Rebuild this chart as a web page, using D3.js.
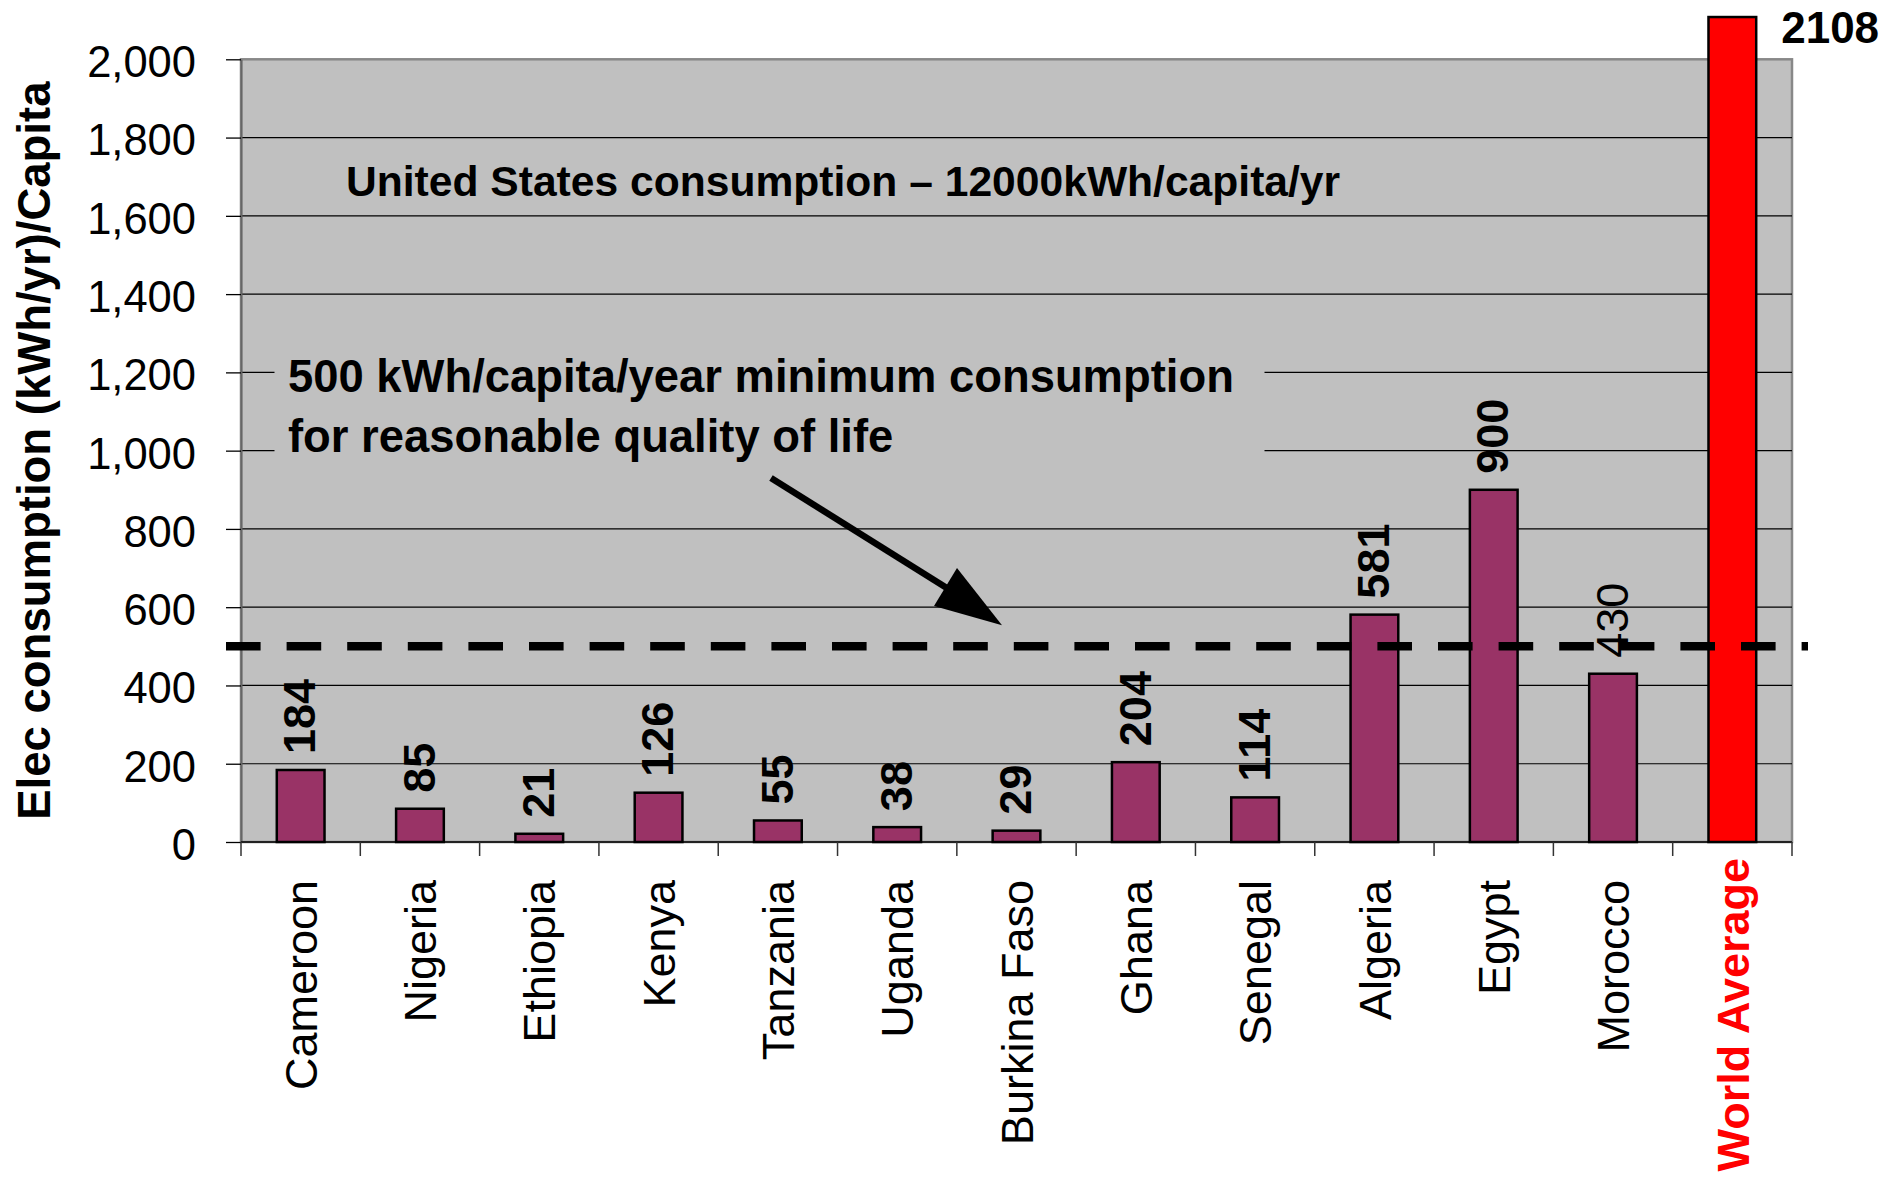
<!DOCTYPE html>
<html>
<head>
<meta charset="utf-8">
<script src="https://cdn.jsdelivr.net/npm/d3@7"></script>
<style>
  html, body { margin: 0; padding: 0; background: #ffffff; }
  svg { display: block; font-family: "Liberation Sans", Arial, Helvetica, sans-serif; }
</style>
</head>
<body>
<svg id="chart" width="1900" height="1179"></svg>
<script>
// Electricity consumption per capita (kWh/yr)
const countries = ["Cameroon", "Nigeria", "Ethiopia", "Kenya", "Tanzania", "Uganda",
  "Burkina Faso", "Ghana", "Senegal", "Algeria", "Egypt", "Morocco", "World Average"];
const consumption = [184, 85, 21, 126, 55, 38, 29, 204, 114, 581, 900, 430, 2108];
const yTicks = [0, 200, 400, 600, 800, 1000, 1200, 1400, 1600, 1800, 2000];
const minimumLevel = 500;
const yTitle = "Elec consumption (kWh/yr)/Capita";
const usNote = "United States consumption \u2013 12000kWh/capita/yr";
const minNote = ["500 kWh/capita/year minimum consumption", "for reasonable quality of life"];
const highlighted = "World Average";

const rows = countries.map((c, i) => ({ country: c, value: consumption[i] }));

const svg = d3.select("#chart");
const plot = { left: 241, right: 1792, top: 59.3, bottom: 842 };

const x = d3.scaleBand()
  .domain(countries)
  .range([plot.left, plot.right])
  .paddingInner(0.6)
  .paddingOuter(0.3);

const y = d3.scaleLinear()
  .domain([0, 2000])
  .range([plot.bottom, plot.top]);

const BAR = "#993366";
const HILITE = "#ff0000";

// plot background
svg.append("rect")
  .attr("x", plot.left).attr("y", plot.top)
  .attr("width", plot.right - plot.left).attr("height", plot.bottom - plot.top)
  .attr("fill", "#c0c0c0")
  .attr("stroke", "#888888").attr("stroke-width", 2.5);

// horizontal gridlines
svg.append("g")
  .selectAll("line")
  .data(yTicks.filter(t => t > 0 && t < 2000))
  .join("line")
  .attr("x1", plot.left).attr("x2", plot.right)
  .attr("y1", d => y(d)).attr("y2", d => y(d))
  .attr("stroke", "#000").attr("stroke-width", 1.2);

// y axis
const yAxis = svg.append("g")
  .attr("transform", `translate(${plot.left},0)`)
  .call(d3.axisLeft(y).tickValues(yTicks).tickSize(15).tickSizeOuter(0)
    .tickPadding(30).tickFormat(d3.format(",")));
yAxis.select(".domain").attr("stroke", "#666").attr("stroke-width", 2);
yAxis.selectAll(".tick line").attr("stroke", "#000").attr("stroke-width", 1.3);
yAxis.selectAll(".tick text")
  .attr("font-size", 43.5).attr("fill", "#000").attr("dy", "0.4em")
  .attr("font-family", "'Liberation Sans', Arial, sans-serif");

// category axis line and boundary ticks
svg.append("line")
  .attr("x1", plot.left).attr("x2", plot.right)
  .attr("y1", y(0)).attr("y2", y(0))
  .attr("stroke", "#222").attr("stroke-width", 2);
svg.append("g")
  .selectAll("line")
  .data(d3.range(countries.length + 1))
  .join("line")
  .attr("x1", i => plot.left + i * x.step())
  .attr("x2", i => plot.left + i * x.step())
  .attr("y1", y(0)).attr("y2", y(0) + 14)
  .attr("stroke", "#333").attr("stroke-width", 1.5);

// annotation box for the minimum-consumption note (covers gridlines behind it)
svg.append("rect")
  .attr("x", 274.5).attr("y", 320)
  .attr("width", 990).attr("height", 160)
  .attr("fill", "#c0c0c0");

svg.append("text")
  .attr("x", 346).attr("y", 196)
  .attr("font-size", 42.6).attr("font-weight", "bold").attr("fill", "#000")
  .text(usNote);

svg.append("text")
  .attr("font-size", 45.4).attr("font-weight", "bold").attr("fill", "#000")
  .selectAll("tspan")
  .data(minNote)
  .join("tspan")
  .attr("x", 288)
  .attr("y", (d, i) => 392 + i * 60)
  .text(d => d);

// bars
svg.append("g")
  .selectAll("rect")
  .data(rows)
  .join("rect")
  .attr("x", d => x(d.country))
  .attr("y", d => y(d.value))
  .attr("width", x.bandwidth())
  .attr("height", d => y(0) - y(d.value))
  .attr("fill", d => d.country === highlighted ? HILITE : BAR)
  .attr("stroke", "#000").attr("stroke-width", 2.5);

// 500 kWh minimum line
svg.append("line")
  .attr("x1", plot.left - 15).attr("x2", plot.right + 16)
  .attr("y1", y(minimumLevel)).attr("y2", y(minimumLevel))
  .attr("stroke", "#000").attr("stroke-width", 8.5)
  .attr("stroke-dasharray", "34.6,26");

// arrow from the note to the minimum line
const tip = [1002, y(minimumLevel) - 21];
svg.append("line")
  .attr("x1", 771).attr("y1", 478)
  .attr("x2", 950).attr("y2", 590)
  .attr("stroke", "#000").attr("stroke-width", 6.5);
svg.append("path")
  .attr("d", `M${tip[0]},${tip[1]} L957,568 L934,606 Z`)
  .attr("fill", "#000");

// value labels
const LBL = 45;
svg.append("g")
  .selectAll("text")
  .data(rows.filter(d => d.country !== highlighted))
  .join("text")
  .attr("transform", d => `translate(${x(d.country) + x.bandwidth() / 2 - 1.5 + 0.36 * LBL},${y(d.value) - 16}) rotate(-90)`)
  .attr("font-size", LBL)
  .attr("font-weight", d => d.country === "Morocco" ? "normal" : "bold")
  .attr("fill", "#000")
  .text(d => d.value);

svg.append("g")
  .selectAll("text")
  .data(rows.filter(d => d.country === highlighted))
  .join("text")
  .attr("x", d => x(d.country) + x.bandwidth() + 25)
  .attr("y", d => y(d.value) + 26)
  .attr("font-size", 44).attr("font-weight", "bold").attr("fill", "#000")
  .text(d => d.value);

// category labels
svg.append("g")
  .selectAll("text")
  .data(countries)
  .join("text")
  .attr("transform", d => `translate(${x(d) + x.bandwidth() / 2 + 0.36 * 45},${d === highlighted ? 858 : 880}) rotate(-90)`)
  .attr("text-anchor", "end")
  .attr("font-size", 45)
  .attr("font-weight", d => d === highlighted ? "bold" : "normal")
  .attr("fill", d => d === highlighted ? HILITE : "#000")
  .text(d => d);

// y axis title
svg.append("text")
  .attr("transform", `translate(50,${(plot.top + plot.bottom) / 2}) rotate(-90)`)
  .attr("text-anchor", "middle")
  .attr("font-size", 45.5).attr("font-weight", "bold").attr("fill", "#000")
  .text(yTitle);
</script>
</body>
</html>
